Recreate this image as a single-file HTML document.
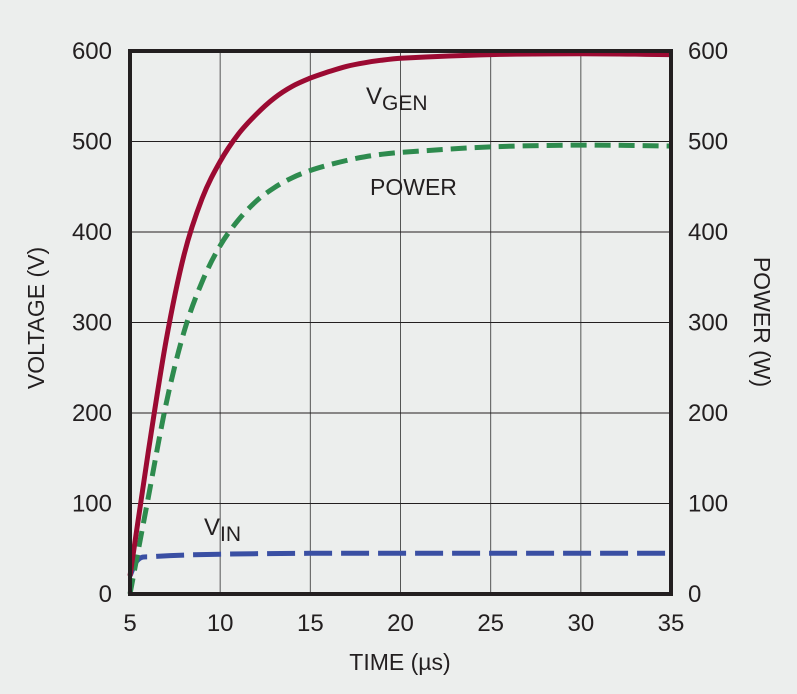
<!DOCTYPE html>
<html><head><meta charset="utf-8">
<style>
html,body{margin:0;padding:0;background:#eceeed;}
svg{display:block;}
text{font-family:"Liberation Sans Narrow","Liberation Sans",sans-serif;fill:#231f20;}
</style></head>
<body>
<svg id="chart" width="797" height="694" viewBox="0 0 797 694" xmlns="http://www.w3.org/2000/svg">
<rect x="0" y="0" width="797" height="694" fill="#eceeed"/>
<g id="grid"></g>
<g id="series"></g>
<g id="axes"></g>
<text x="38" y="318" font-size="23" text-anchor="middle" transform="rotate(-90 38 318)" dominant-baseline="middle">VOLTAGE (V)</text>
<text x="760" y="322" font-size="23" text-anchor="middle" transform="rotate(90 760 322)" dominant-baseline="middle">POWER (W)</text>
<text x="400" y="670" font-size="23" text-anchor="middle">TIME (µs)</text>
<text x="366" y="104" font-size="24">V<tspan font-size="21" dy="6">GEN</tspan></text>
<text x="370" y="195" font-size="23">POWER</text>
<text x="204" y="535" font-size="24">V<tspan font-size="21" dy="6">IN</tspan></text>
</svg>
<script>
const xTicks=[5,10,15,20,25,30,35];
const yTicks=[0,100,200,300,400,500,600];
const vgenT=[5,6,7,8,9,10,11,12,13,14,15,16,17,18,19,20,25,30,35];
const vgenV=[20,155,280,375,437,478,508,530,548,561,570,577,583,587,590,592,596,597,596];
const powerT=[5,6,7,8,9,10,11,12,13,14,15,16,17,18,19,20,25,30,35];
const powerV=[0,105,210,290,345,385,413,434,449,460,468,474,479,483,486,488,494,496,495];
const vinT=[5,5.3,5.6,6,8,10,15,20,35];
const vinV=[20,34,40,41,43,44,45,45,45];
const X0=130,X1=671,Y0=594,Y1=51;
const xs=t=>X0+(t-5)/30*(X1-X0);
const ys=v=>Y0-v/600*(Y0-Y1);
const NS="http://www.w3.org/2000/svg";
function mk(tag,attrs,parent){const e=document.createElementNS(NS,tag);for(const k in attrs)e.setAttribute(k,attrs[k]);parent.appendChild(e);return e;}
const grid=document.getElementById('grid'),axes=document.getElementById('axes'),ser=document.getElementById('series');
xTicks.forEach(t=>{
  if(t>5&&t<35){const l=mk('line',{x1:xs(t),x2:xs(t),y1:Y1,y2:Y0,stroke:'#555',"stroke-width":1},grid);
  
  }
  const tx=mk('text',{x:xs(t),y:631,"font-size":24,"text-anchor":"middle"},axes);tx.textContent=t;
  
  
});
yTicks.forEach(v=>{
  if(v>0&&v<600){const l=mk('line',{x1:X0,x2:X1,y1:ys(v),y2:ys(v),stroke:'#231f20',"stroke-width":1},grid);
  
  }
  const a=mk('text',{x:112,y:ys(v)+8,"font-size":24,"text-anchor":"end"},axes);a.textContent=v;
  
  
  const b=mk('text',{x:688,y:ys(v)+8,"font-size":24,"text-anchor":"start"},axes);b.textContent=v;
  
  
});
function smooth(T,V){
 const p=T.map((t,i)=>[xs(t),ys(V[i])]);const n=p.length;
 const m=p.map((q,i)=>{const a=p[Math.max(i-1,0)],b=p[Math.min(i+1,n-1)];const dx=b[0]-a[0];return dx?(b[1]-a[1])/dx:0;});
 let d='M'+p[0][0].toFixed(1)+','+p[0][1].toFixed(1);
 for(let i=0;i<n-1;i++){const h=p[i+1][0]-p[i][0];
  const c1=[p[i][0]+h/3,p[i][1]+m[i]*h/3],c2=[p[i+1][0]-h/3,p[i+1][1]-m[i+1]*h/3];
  d+=` C${c1[0].toFixed(1)},${c1[1].toFixed(1)} ${c2[0].toFixed(1)},${c2[1].toFixed(1)} ${p[i+1][0].toFixed(1)},${p[i+1][1].toFixed(1)}`;}
 return d;}
const pv=mk('path',{d:smooth(vinT,vinV),fill:'none',stroke:'#3a4fa3',"stroke-width":5,"stroke-dasharray":"28 9"},ser);


const pp=mk('path',{d:smooth(powerT,powerV),fill:'none',stroke:'#2e8b4e',"stroke-width":5,"stroke-dasharray":"16 8"},ser);


const pg=mk('path',{d:smooth(vgenT,vgenV),fill:'none',stroke:'#9b0a32',"stroke-width":5},ser);


const fr=mk('rect',{x:X0,y:Y1,width:X1-X0,height:Y0-Y1,fill:'none',stroke:'#231f20',"stroke-width":4},axes);


</script>
</body></html>
